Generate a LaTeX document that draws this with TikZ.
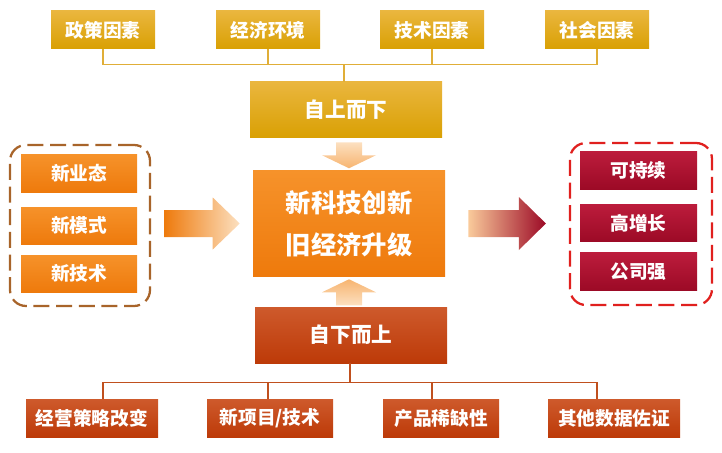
\documentclass[tikz,border=0pt]{standalone}
\usepackage{fontspec}
\setmainfont{Noto Sans CJK SC}
\usetikzlibrary{calc}
\definecolor{GoldTop}{HTML}{EAB63E}
\definecolor{GoldBot}{HTML}{D9A003}
\definecolor{GoldLine}{HTML}{E0AE38}
\definecolor{OrangeTop}{HTML}{F6922A}
\definecolor{OrangeBot}{HTML}{EE7A0C}
\definecolor{RustTop}{HTML}{CE5A2C}
\definecolor{RustBot}{HTML}{BD3A08}
\definecolor{RustLine}{HTML}{C0501E}
\definecolor{CrimsonTop}{HTML}{BC1C3C}
\definecolor{CrimsonBot}{HTML}{9C0A26}
\definecolor{PeachLight}{HTML}{FCE0C0}
\definecolor{PeachDark}{HTML}{F7B470}
\definecolor{BrownDash}{HTML}{A8642A}
\definecolor{RedDash}{HTML}{E0201E}
\tikzset{
    % boxes
    factor/.style={
        rectangle,
        top color=GoldTop,
        bottom color=GoldBot,
        text=white,
        minimum width=78pt,
        minimum height=28.5pt,
        font=\bfseries\fontsize{14}{16}\selectfont
    },
    driver/.style={
        rectangle,
        minimum width=144pt,
        minimum height=42pt,
        text=white,
        font=\bfseries\fontsize{15.5}{18}\selectfont
    },
    newitem/.style={
        rectangle,
        top color=OrangeTop,
        bottom color=OrangeBot,
        text=white,
        minimum width=87pt,
        minimum height=27.75pt,
        font=\bfseries\fontsize{14}{16}\selectfont
    },
    goal/.style={
        rectangle,
        top color=CrimsonTop,
        bottom color=CrimsonBot,
        text=white,
        minimum width=87.75pt,
        minimum height=28pt,
        font=\bfseries\fontsize{14}{16}\selectfont
    },
    evidence/.style={
        rectangle,
        top color=RustTop,
        bottom color=RustBot,
        text=white,
        minimum height=28.5pt,
        font=\bfseries\fontsize{14}{16}\selectfont
    },
    group/.style={
        rectangle,
        rounded corners=12pt,
        line width=1.7pt,
        dash pattern=on 12pt off 5pt
    },
    % lines
    goldline/.style={draw=GoldLine, line width=1pt},
    rustline/.style={draw=RustLine, line width=1pt}
}
\begin{document}
\begin{tikzpicture}[x=0.75pt, y=-0.75pt]
    \useasboundingbox (0,0) rectangle (722,453);

    % top factors
    \node[factor] (f1) at (103,30) {政策因素};
    \node[factor] (f2) at (268,30) {经济环境};
    \node[factor] (f3) at (432,30) {技术因素};
    \node[factor] (f4) at (597,30) {社会因素};

    \node[driver, top color=GoldTop, bottom color=GoldBot] (topdown) at (346,110) {自上而下};

    % core
    \node[rectangle, top color=OrangeTop, bottom color=OrangeBot, text=white,
          minimum width=144pt, minimum height=78.75pt, align=center,
          font=\bfseries\fontsize{19}{31.5}\selectfont] (core) at (349,223.5)
          {新科技创新\\旧经济升级};

    \node[driver, top color=RustTop, bottom color=RustBot] (bottomup) at (351,335) {自下而上};

    % bottom evidence
    \node[evidence, minimum width=99pt] (b1) at (92,418) {经营策略改变};
    \node[evidence, minimum width=94.5pt] (b2) at (270,418) {新项目/技术};
    \node[evidence, minimum width=87pt] (b3) at (441,418) {产品稀缺性};
    \node[evidence, minimum width=99pt] (b4) at (614,418) {其他数据佐证};

    % left group
    \node[newitem] (l1) at (79,173.5) {新业态};
    \node[newitem] (l2) at (79,225.5) {新模式};
    \node[newitem] (l3) at (79,273.5) {新技术};
    \node[group, draw=BrownDash, minimum width=105pt, minimum height=120.75pt] (lgroup) at (80,225.5) {};

    % right group
    \node[goal] (r1) at (638.5,170.5) {可持续};
    \node[goal] (r2) at (638.5,223) {高增长};
    \node[goal] (r3) at (638.5,271.5) {公司强};
    \node[group, draw=RedDash, minimum width=106.5pt, minimum height=121.5pt] (rgroup) at (641,224) {};

    % connectors top
    \coordinate (tjoin) at ($(topdown.north)+(-2,-17)$);
    \draw[goldline] (tjoin) -- (tjoin |- topdown.north);
    \foreach \f in {f1,f2,f3,f4}
        \draw[goldline] (\f.south) |- (tjoin);

    % connectors bottom
    \coordinate (bjoin) at ($(bottomup.south)+(-1,19)$);
    \draw[rustline] (bjoin |- bottomup.south) -- (bjoin);
    \foreach \b/\f in {b1/f1,b2/f2,b3/f3,b4/f4}
        \draw[rustline] (\b.north -| \f) |- (bjoin);

    % block arrows
    \coordinate (la) at ($(lgroup.east |- core.west)+(13,0)$);
    \coordinate (lb) at ($(core.west)+(-13,0)$);
    \shade[left color=OrangeBot, right color=PeachLight]
        ($(la)+(0,-13.5)$) -- ($(lb)+(-27,-13.5)$) -- ($(lb)+(-27,-26)$) -- (lb)
        -- ($(lb)+(-27,26)$) -- ($(lb)+(-27,13.5)$) -- ($(la)+(0,13.5)$) -- cycle;

    \coordinate (ra) at ($(core.east)+(23,0)$);
    \coordinate (rb) at ($(rgroup.west |- core.east)+(-23,0)$);
    \shade[left color=PeachDark!70, right color=CrimsonBot]
        ($(ra)+(0,-13.5)$) -- ($(rb)+(-27,-13.5)$) -- ($(rb)+(-27,-26.5)$) -- (rb)
        -- ($(rb)+(-27,26.5)$) -- ($(rb)+(-27,13.5)$) -- ($(ra)+(0,13.5)$) -- cycle;

    \coordinate (da) at ($(topdown.south)+(0,4)$);
    \coordinate (db) at ($(core.north |- da)+(0,26)$);
    \shade[top color=PeachLight, bottom color=PeachDark]
        ($(db)+(-13,-26)$) -- ($(db)+(-13,-13)$) -- ($(db)+(-27,-13)$) -- (db)
        -- ($(db)+(27,-13)$) -- ($(db)+(13,-13)$) -- ($(db)+(13,-26)$) -- cycle;

    \coordinate (ub) at ($(core.south)+(0,3)$);
    \shade[top color=PeachDark, bottom color=PeachLight]
        ($(ub)+(-13,26)$) -- ($(ub)+(-13,13)$) -- ($(ub)+(-27,13)$) -- (ub)
        -- ($(ub)+(27,13)$) -- ($(ub)+(13,13)$) -- ($(ub)+(13,26)$) -- cycle;
\end{tikzpicture}
\end{document}
